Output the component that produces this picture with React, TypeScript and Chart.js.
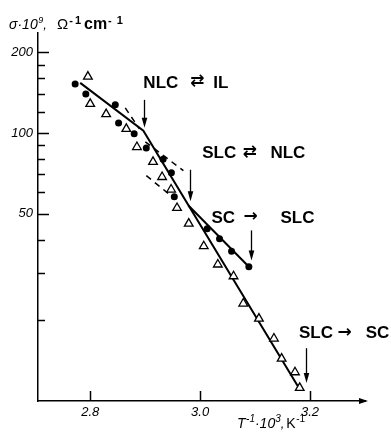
import React, { useEffect, useRef } from 'react';
import { Chart, registerables } from 'chart.js';

Chart.register(...registerables);

// ---------- data ----------
const circleX = [2.7726, 2.792, 2.8456, 2.8516, 2.88, 2.902, 2.9326, 2.9477, 2.953, 3.0128, 3.0353, 3.0572, 3.0887];
const circleY = [152.4, 139.8, 127.3, 108.9, 99.3, 87.8, 79.8, 71.0, 57.8, 43.9, 40.3, 36.2, 31.7];

const triangleX = [2.7958, 2.8, 2.829, 2.8657, 2.885, 2.9143, 2.9308, 2.9472, 2.958, 2.9793, 3.0066, 3.0322, 3.0608, 3.0785, 3.107, 3.1343, 3.1483, 3.1726, 3.1812];
const triangleY = [162.3, 128.4, 117.6, 103.6, 88.6, 78.0, 68.5, 61.5, 52.5, 45.9, 37.8, 32.3, 29.2, 23.1, 20.3, 17.1, 14.4, 12.8, 11.2];

const mainFitX = [2.7818, 2.8967, 3.1812];
const mainFitY = [153.7, 101.9, 11.07];
const branchFitX = [2.9787, 3.0887];
const branchFitY = [53.6, 31.7];

const dash1X = [2.8638, 2.8894];
const dash1Y = [124.1, 103.6];
const dash2X = [2.9003, 2.9696];
const dash2Y = [92.7, 72.3];
const dash3X = [2.9021, 2.9423];
const dash3Y = [69.3, 59.4];

const xTicks = [2.8, 3.0, 3.2];
const yTicks = [20, 30, 40, 50, 60, 70, 80, 90, 100, 120, 140, 160, 180, 200];
const yLabeled = [50, 100, 200];

const transitionTokens = [
  ['NLC', '⇄', 'IL'],
  ['SLC', '⇄', 'NLC'],
  ['SC', '→', 'SLC'],
  ['SLC', '→', 'SC'],
];
const transitionLabelX = [2.8967, 3.0037, 3.0207, 3.1799];
const transitionLabelY = [155.0, 84.6, 48.6, 18.0];

const arrowX = [2.8985, 2.9815, 3.0918, 3.193];
const arrowFromY = [132.9, 72.9, 43.3, 15.74];
const arrowToY = [104.6, 55.6, 33.4, 11.66];

// ---------- layout / style ----------
const tokenOffsets = [
  [0, 47, 70],
  [0, 40.5, 68.3],
  [0, 32, 69],
  [0, 38.4, 66.7],
];

const pts = (xs: number[], ys: number[]) => xs.map((x, i) => ({ x, y: ys[i] }));

const FAM = "'Liberation Sans', Arial, sans-serif";
const TICK_FONT = { family: FAM, size: 13, style: 'italic' as const };

// [text, font, rise, gapBefore]
type Part = [string, string, number, number];

const yTitleLeft: Part[] = [
  ['σ·10', `italic 14px ${FAM}`, 0, 0],
  ['9', `italic 9px ${FAM}`, 6, 0.5],
  [',', `italic 13px ${FAM}`, 0, 0],
];
const yTitleRight: Part[] = [
  ['Ω', `15px ${FAM}`, 0, 0],
  ['-', `bold 11px ${FAM}`, 5, 1],
  ['1', `bold 11px ${FAM}`, 5, 2],
  ['cm', `bold 16px ${FAM}`, 0, 3],
  ['-', `bold 11px ${FAM}`, 5, 1],
  ['1', `bold 11px ${FAM}`, 5, 5],
];
const xTitle: Part[] = [
  ['T', `italic 14px ${FAM}`, 0, 0],
  ['-1', `italic 10px ${FAM}`, 6, 0.5],
  ['·10', `italic 14px ${FAM}`, 0, 0],
  ['3', `italic 10px ${FAM}`, 6, 0],
  [',', `italic 13px ${FAM}`, 0, 0],
  ['K', `14px ${FAM}`, 0, 2],
  ['-1', `10px ${FAM}`, 6, 0.5],
];

const overlayPlugin = {
  id: 'overlay',
  afterDraw(chart: any) {
    const { ctx, chartArea } = chart;
    const xs = chart.scales.x;
    const ys = chart.scales.y;
    ctx.save();
    ctx.strokeStyle = '#000';
    ctx.fillStyle = '#000';
    ctx.lineWidth = 1.5;

    // inward y ticks
    yTicks.forEach((v) => {
      const py = Math.round(ys.getPixelForValue(v)) + 0.5;
      const len = yLabeled.includes(v) ? 11 : 7;
      ctx.beginPath();
      ctx.moveTo(chartArea.left, py);
      ctx.lineTo(chartArea.left + len, py);
      ctx.stroke();
    });
    // inward x ticks
    xTicks.forEach((v) => {
      const px = Math.round(xs.getPixelForValue(v)) + 0.5;
      ctx.beginPath();
      ctx.moveTo(px, chartArea.bottom);
      ctx.lineTo(px, chartArea.bottom - 10);
      ctx.stroke();
    });
    // x-axis arrow head
    const ax = chartArea.right + 1;
    const ay = chartArea.bottom;
    ctx.beginPath();
    ctx.moveTo(ax + 2, ay);
    ctx.lineTo(ax - 7, ay - 3);
    ctx.lineTo(ax - 7, ay + 3);
    ctx.closePath();
    ctx.fill();

    // axis titles
    const drawParts = (parts: Part[], x0: number, baseline: number) => {
      let x = x0;
      ctx.textBaseline = 'alphabetic';
      ctx.textAlign = 'left';
      parts.forEach(([t, f, rise, gap]) => {
        ctx.font = f;
        x += gap;
        ctx.fillText(t, x, baseline - rise);
        x += ctx.measureText(t).width;
      });
    };
    drawParts(yTitleLeft, 9, 29);
    drawParts(yTitleRight, 57, 29);
    drawParts(xTitle, 237, 428);

    // transition labels
    transitionTokens.forEach((tokens, i) => {
      const bx = xs.getPixelForValue(transitionLabelX[i]);
      const by = ys.getPixelForValue(transitionLabelY[i]);
      tokens.forEach((t, j) => {
        const isArrow = t === '⇄' || t === '→';
        ctx.font = isArrow ? "bold 17px 'DejaVu Sans', sans-serif" : `bold 17px ${FAM}`;
        ctx.textBaseline = 'middle';
        ctx.textAlign = 'left';
        ctx.fillText(t, bx + tokenOffsets[i][j], by + (isArrow ? 0 : 1));
      });
    });

    // vertical arrows
    ctx.lineWidth = 1.3;
    arrowX.forEach((v, i) => {
      const px = Math.round(xs.getPixelForValue(v)) + 0.5;
      const y1 = ys.getPixelForValue(arrowFromY[i]);
      const y2 = ys.getPixelForValue(arrowToY[i]);
      ctx.beginPath();
      ctx.moveTo(px, y1);
      ctx.lineTo(px, y2 - 6);
      ctx.stroke();
      ctx.beginPath();
      ctx.moveTo(px, y2);
      ctx.lineTo(px - 2.8, y2 - 10);
      ctx.lineTo(px + 2.8, y2 - 10);
      ctx.closePath();
      ctx.fill();
    });
    ctx.restore();
  },
};

export default function App() {
  const ref = useRef<HTMLCanvasElement | null>(null);

  useEffect(() => {
    if (!ref.current) return;
    const lineDs = (data: any, extra: any = {}) => ({
      type: 'line',
      data,
      borderColor: '#000',
      borderWidth: 2,
      pointRadius: 0,
      fill: false,
      showLine: true,
      order: 2,
      ...extra,
    });
    const chart = new Chart(ref.current, {
      type: 'scatter',
      data: {
        datasets: [
          {
            data: pts(circleX, circleY),
            pointStyle: 'circle',
            pointRadius: 3.5,
            backgroundColor: '#000',
            borderColor: '#000',
            borderWidth: 0,
            showLine: false,
            order: 0,
          } as any,
          {
            data: pts(triangleX, triangleY),
            pointStyle: 'triangle',
            pointRadius: 5,
            backgroundColor: '#fff',
            borderColor: '#000',
            borderWidth: 1.3,
            showLine: false,
            order: 0,
          } as any,
          lineDs(pts(mainFitX, mainFitY)),
          lineDs(pts(branchFitX, branchFitY)),
          lineDs(pts(dash1X, dash1Y), { borderWidth: 1.5, borderDash: [6, 5] }),
          lineDs(pts(dash2X, dash2Y), { borderWidth: 1.5, borderDash: [6, 5] }),
          lineDs(pts(dash3X, dash3Y), { borderWidth: 1.5, borderDash: [6, 5] }),
        ],
      },
      options: {
        animation: false,
        responsive: false,
        devicePixelRatio: 1,
        layout: { padding: { top: 33, right: 26, left: 0, bottom: 0 } },
        plugins: { legend: { display: false }, tooltip: { enabled: false } },
        scales: {
          x: {
            type: 'linear',
            position: 'bottom',
            min: 2.705,
            max: 3.3,
            grid: { display: false, drawTicks: false },
            border: { display: true, color: '#000', width: 1.5 },
            ticks: {
              color: '#000',
              font: TICK_FONT,
              padding: 4,
              autoSkip: false,
              maxRotation: 0,
              callback: (v: any) => Number(v).toFixed(1),
            },
            afterBuildTicks: (s: any) => {
              s.ticks = xTicks.map((v) => ({ value: v }));
            },
            afterFit: (s: any) => {
              s.height = 37;
            },
          },
          y: {
            type: 'logarithmic',
            position: 'left',
            min: 10,
            max: 236,
            grid: { display: false, drawTicks: false },
            border: { display: true, color: '#000', width: 1.5 },
            ticks: {
              color: '#000',
              font: TICK_FONT,
              padding: 5,
              autoSkip: false,
              callback: (v: any) => (yLabeled.includes(Number(v)) ? String(v) : ''),
            },
            afterBuildTicks: (s: any) => {
              s.ticks = yTicks.map((v) => ({ value: v }));
            },
            afterFit: (s: any) => {
              s.width = 38;
            },
          },
        },
      } as any,
      plugins: [overlayPlugin],
    });
    return () => chart.destroy();
  }, []);

  return (
    <div style={{ position: 'fixed', left: 0, top: 0, width: 391, height: 438, background: '#fff' }}>
      <canvas ref={ref} width={391} height={438} style={{ width: 391, height: 438, display: 'block' }} />
    </div>
  );
}
